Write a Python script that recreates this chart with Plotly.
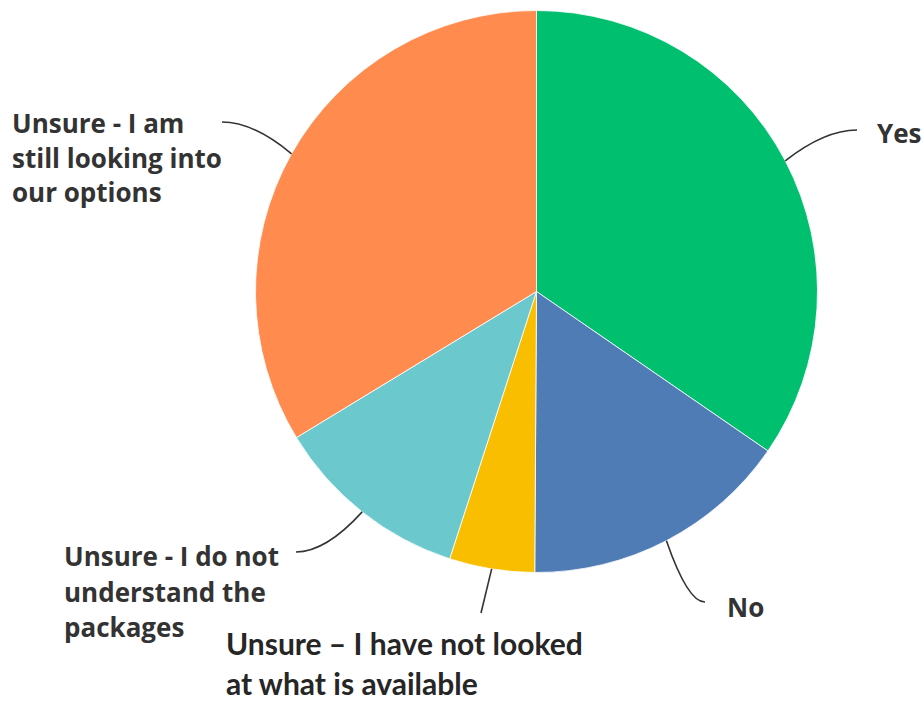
import math
import plotly.graph_objects as go

# Survey responses (percent of respondents)
categories = [
    "Yes",
    "No",
    "Unsure – I have not looked at what is available",
    "Unsure - I do not understand the packages",
    "Unsure - I am still looking into our options",
]
shares = [34.6, 15.5, 4.9, 11.3, 33.7]
colors = ["#00BF6F", "#507CB6", "#F9BE00", "#6BC8CD", "#FF8B4F"]

# Text lines shown for each category's outside label
label_lines = [
    ["Yes"],
    ["No"],
    ["Unsure – I have not looked", "at what is available"],
    ["Unsure - I do not", "understand the", "packages"],
    ["Unsure - I am", "still looking into", "our options"],
]

W, H = 924, 702
CX, CY, R = 536.5, 291.5, 281.0  # pie centre / radius in pixels

fig = go.Figure(
    go.Pie(
        labels=categories,
        values=shares,
        sort=False,
        direction="clockwise",
        rotation=0,
        textinfo="none",
        hoverinfo="label+percent",
        marker=dict(colors=colors, line=dict(color="white", width=0.8)),
        domain=dict(
            x=[(CX - R) / W, (CX + R) / W],
            y=[(H - CY - R) / H, (H - CY + R) / H],
        ),
        showlegend=False,
    )
)


def px(x, y):
    """pixel position -> paper fraction"""
    return x / W, 1 - y / H


# leader-line end points and label anchors (pixels)
label_style = [
    dict(end=(857, 130), text_xy=(876, 133), font="Open Sans", size=26, gap=0, color="#333333"),
    dict(end=(705, 602), text_xy=(726, 607), font="Open Sans", size=26, gap=0, color="#333333"),
    dict(end=(481, 613), text_xy=(225, 643), font="Lato", size=30, gap=40, color="#262626"),
    dict(end=(296, 552), text_xy=(63, 556), font="Open Sans", size=26, gap=35.5, color="#333333"),
    dict(end=(222, 122), text_xy=(11, 123), font="Open Sans", size=26, gap=34.5, color="#333333"),
]

total = sum(shares)
cum = 0.0
shapes = []
annotations = []
for i, v in enumerate(shares):
    mid = (cum + v / 2) / total * 2 * math.pi
    cum += v
    sx = CX + R * math.sin(mid)
    sy = CY - R * math.cos(mid)
    st = label_style[i]
    ex, ey = st["end"]
    if abs(ex - sx) < 20:
        qx, qy = (sx + ex) / 2, (sy + ey) / 2
    else:
        qx, qy = sx + 0.55 * (ex - sx), ey
    p0, q, p1 = px(sx, sy), px(qx, qy), px(ex, ey)
    shapes.append(
        dict(
            type="path",
            xref="paper",
            yref="paper",
            path=f"M {p0[0]},{p0[1]} Q {q[0]},{q[1]} {p1[0]},{p1[1]}",
            line=dict(color="#333333", width=1.6),
        )
    )
    tx, ty = st["text_xy"]
    for j, line in enumerate(label_lines[i]):
        ax, ay = px(tx, ty + j * st["gap"])
        annotations.append(
            dict(
                x=ax,
                y=ay,
                xref="paper",
                yref="paper",
                text=f"<b>{line}</b>",
                showarrow=False,
                xanchor="left",
                yanchor="middle",
                borderpad=0,
                font=dict(family=st["font"], size=st["size"], color=st["color"]),
            )
        )

fig.update_layout(
    width=W,
    height=H,
    margin=dict(l=0, r=0, t=0, b=0),
    paper_bgcolor="white",
    plot_bgcolor="white",
    shapes=shapes,
    annotations=annotations,
)

fig.write_html("out.html")
